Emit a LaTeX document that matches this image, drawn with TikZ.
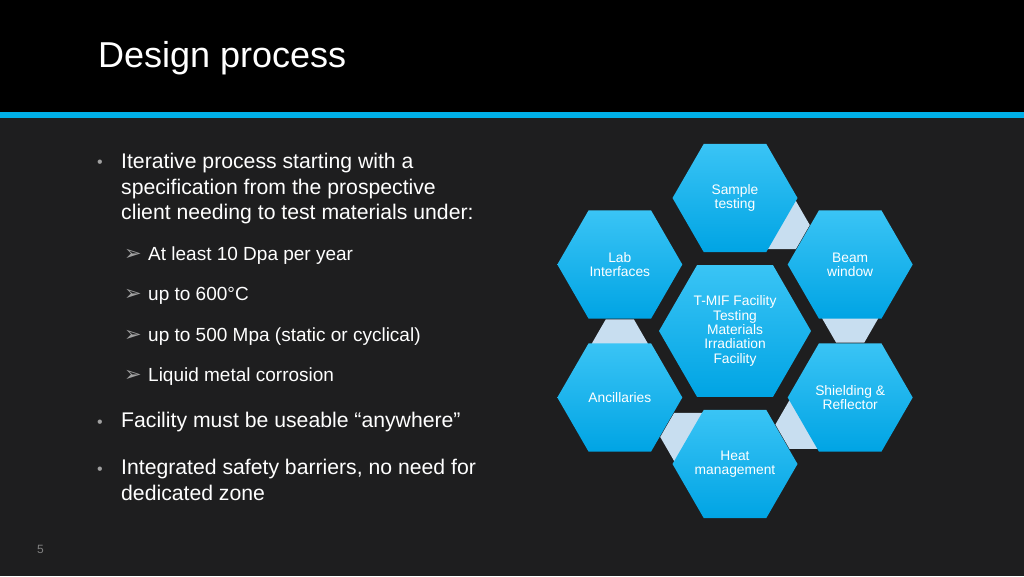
\documentclass[tikz,border=0pt]{standalone}
\usepackage{fontspec}
\setmainfont{Liberation Sans}
\newfontfamily\symfont{DejaVu Sans}
\usetikzlibrary{shapes.geometric, positioning, calc}
\definecolor{slidebg}{RGB}{30,30,31}
\definecolor{bandblue}{RGB}{0,176,232}
\definecolor{hextop}{RGB}{58,196,245}
\definecolor{hexbot}{RGB}{0,164,228}
\definecolor{linkfill}{RGB}{200,222,240}
\definecolor{bulgray}{RGB}{160,160,160}
\tikzset{
  x=1pt, y=1pt,
  hexa/.style={regular polygon, regular polygon sides=6, minimum size=125pt,
    inner sep=-14pt, outer sep=0pt, top color=hextop, bottom color=hexbot,
    text=white, align=center, font=\fontsize{13.8}{14.3}\selectfont},
  corehexa/.style={hexa, minimum size=152pt},
  link/.style={regular polygon, regular polygon sides=6, minimum size=56pt,
    inner sep=0pt, outer sep=0pt, fill=linkfill},
  lvlone/.style={anchor=base west, text=white, align=left, inner sep=0pt,
    font=\fontsize{21.2}{25.5}\selectfont},
  lvltwo/.style={lvlone, font=\fontsize{19}{23}\selectfont},
  bul/.style={anchor=base west, text=bulgray, inner sep=0pt,
    font=\fontsize{16}{20}\selectfont},
  subbul/.style={anchor=base west, text=bulgray, inner sep=0pt,
    font=\symfont\fontsize{21}{24}\selectfont},
}

\begin{document}
\begin{tikzpicture}
  \useasboundingbox (0,0) rectangle (1024,576);
  % slide background and header
  \fill[slidebg] (0,0) rectangle (1024,576);
  \fill[black] (0,464) rectangle (1024,576);
  \fill[bandblue] (0,458) rectangle (1024,464);
  \node[anchor=base west, inner sep=0pt, text=white,
    font=\fontsize{36}{40}\selectfont] (title) at (98,508) {Design process};

  % bullet list (multi-line nodes sit on their last baseline)
  \node[bul] (b1) at (97,408) {•};
  \node[lvlone] (it1) at (121,356) {Iterative process starting with a\\
    specification from the prospective\\client needing to test materials under:};
  \node[subbul] (s1b) at (124,315) {➢};
  \node[lvltwo] (s1) at (148,315) {At least 10 Dpa per year};
  \node[subbul] (s2b) at (124,275) {➢};
  \node[lvltwo] (s2) at (148,275) {up to 600°C};
  \node[subbul] (s3b) at (124,235) {➢};
  \node[lvltwo] (s3) at (148,235) {up to 500 Mpa (static or cyclical)};
  \node[subbul] (s4b) at (124,195) {➢};
  \node[lvltwo] (s4) at (148,195) {Liquid metal corrosion};
  \node[bul] (b2) at (97,149) {•};
  \node[lvlone] (it2) at (121,149) {Facility must be useable “anywhere”};
  \node[bul] (b3) at (97,102) {•};
  \node[lvlone] (it3) at (121,76) {Integrated safety barriers, no need for\\dedicated zone};
  \node[anchor=base west, inner sep=0pt, text=gray,
    font=\fontsize{12}{14}\selectfont] (pagenum) at (37,23) {5};

  % hexagon cluster
  \coordinate (c) at (735,245);
  \foreach \n/\a in {sample/90, beam/30, shield/-30, heat/-90, anc/-150, lab/150}
    \coordinate (\n-c) at ($(c)+(\a:133)$);
  \foreach \n/\a [evaluate=\a as \b using \a-120] in {sample/90, beam/30, shield/-30, heat/-90, anc/-150}
    \node[link] (\n-link) at ($(\n-c)+(\b:54)$) {};

  \node[corehexa] (core) at (c) {T-MIF Facility\\Testing\\Materials\\Irradiation\\Facility};
  \node[hexa] (sample) at (sample-c) {Sample\\testing};
  \node[hexa] (beam) at (beam-c) {Beam\\window};
  \node[hexa] (shield) at (shield-c) {Shielding \&\\Reflector};
  \node[hexa] (heat) at (heat-c) {Heat\\management};
  \node[hexa] (anc) at (anc-c) {Ancillaries};
  \node[hexa] (lab) at (lab-c) {Lab\\Interfaces};
\end{tikzpicture}
\end{document}
